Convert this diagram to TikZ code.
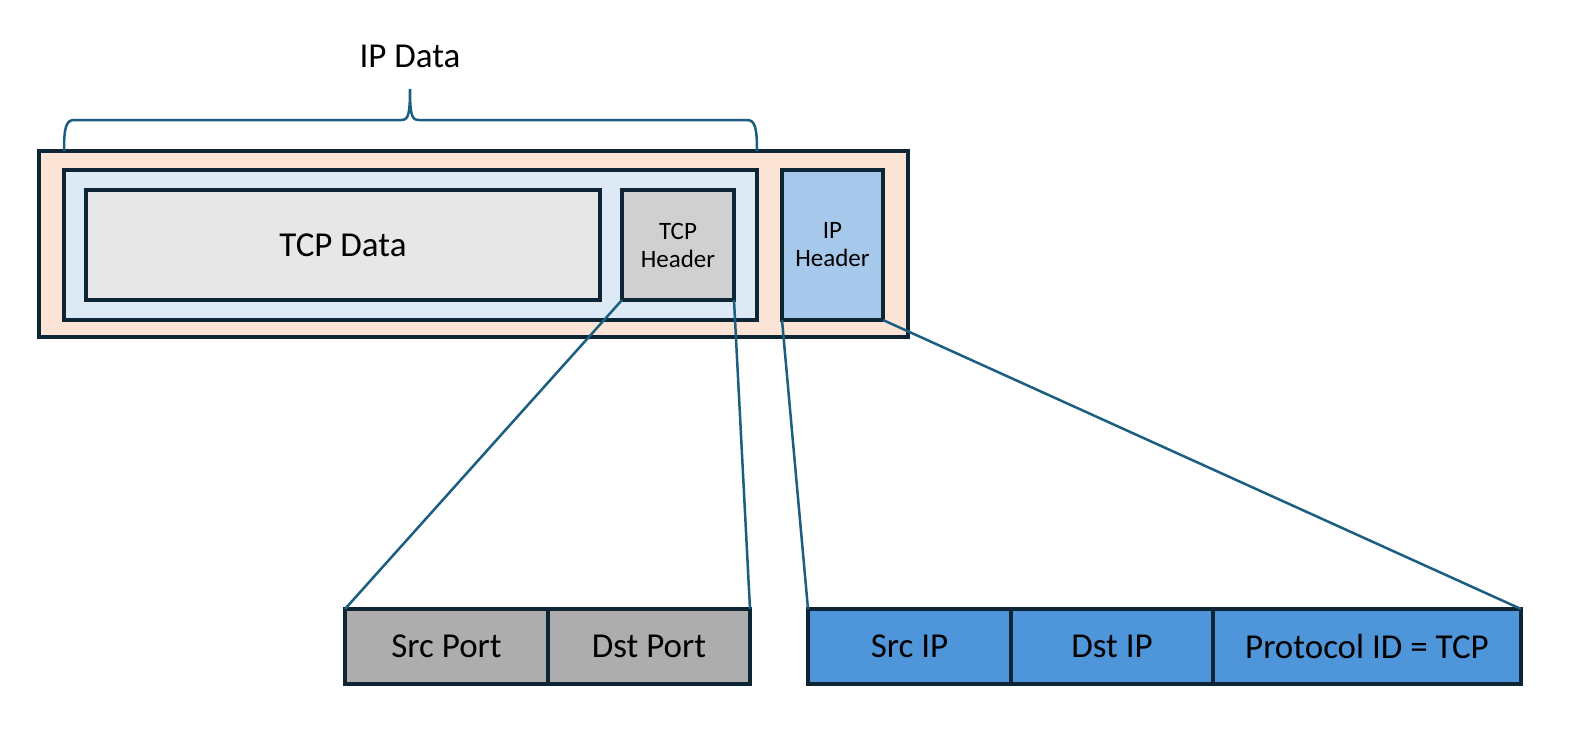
\documentclass[tikz,border=0pt]{standalone}
\usepackage{fontspec}
\setmainfont{Carlito}
\usetikzlibrary{positioning}

\definecolor{peach}{HTML}{FBE3D6}
\definecolor{paleblue}{HTML}{DDEAF6}
\definecolor{lightgrey}{HTML}{E7E7E7}
\definecolor{midgrey}{HTML}{D0D0D0}
\definecolor{skyblue}{HTML}{A6C9EB}
\definecolor{portgrey}{HTML}{ADADAD}
\definecolor{fieldblue}{HTML}{4E95D9}
\definecolor{boxline}{HTML}{0E2536}
\definecolor{linkblue}{HTML}{1B5E80}

\begin{document}
\begin{tikzpicture}[x=1pt,y=-1pt,inner sep=0pt,outer sep=0pt,
    box/.style={rectangle,draw=boxline,line width=3.4pt},
    bigtext/.style={font=\fontsize{35}{40}\selectfont},
    smalltext/.style={font=\fontsize{25}{28}\selectfont,align=center},
    field/.style={box,bigtext,minimum height=75pt},
    link/.style={draw=linkblue,line width=2.5pt}]
    \useasboundingbox (0,0) rectangle (1591,740);
    % packet and its parts
    \node[box,fill=peach,minimum width=869pt,minimum height=186pt] (ippacket) at (473.5,244) {};
    \node[box,fill=paleblue,minimum width=693pt,minimum height=150pt] (tcpseg) at (410.5,245) {};
    \node[box,bigtext,fill=lightgrey,minimum width=514pt,minimum height=110pt] (tcpdata) at (343,245) {TCP Data};
    \node[box,smalltext,fill=midgrey,minimum width=112pt,minimum height=110pt] (tcphdr) at (678,245) {TCP\\Header};
    \node[box,smalltext,fill=skyblue,minimum width=101pt,minimum height=150pt] (iphdr) at (832.5,245) {IP\\Header};
    \node[bigtext] (ipdata) at (410,56) {IP Data};
    % header fields
    \node[field,fill=portgrey,minimum width=203pt] (srcport) at (446.5,646.5) {Src Port};
    \node[field,fill=portgrey,minimum width=202pt] (dstport) [right=0pt of srcport] {Dst Port};
    \node[field,fill=fieldblue,minimum width=203pt] (srcip) at (909.5,646.5) {Src IP};
    \node[field,fill=fieldblue,minimum width=202pt] (dstip) [right=0pt of srcip] {Dst IP};
    \node[field,fill=fieldblue,minimum width=308pt] (protoid) [right=0pt of dstip] {Protocol ID = TCP};
    % brace over the tcp segment
    \draw[link] (tcpseg.west |- ippacket.north) .. controls (64,128) and (66,120) .. (74,120)
        -- (401,120) .. controls (408,120) and (410,116) .. (410,89)
        .. controls (410,116) and (412,120) .. (419,120)
        -- (747,120) .. controls (755,120) and (757,128) .. (tcpseg.east |- ippacket.north);
    \draw[link] (tcphdr.south west) -- (srcport.north west);
    \draw[link] (tcphdr.south east) -- (dstport.north east);
    \draw[link] (iphdr.south west) -- (srcip.north west);
    \draw[link] (iphdr.south east) -- (protoid.north east);
\end{tikzpicture}
\end{document}
